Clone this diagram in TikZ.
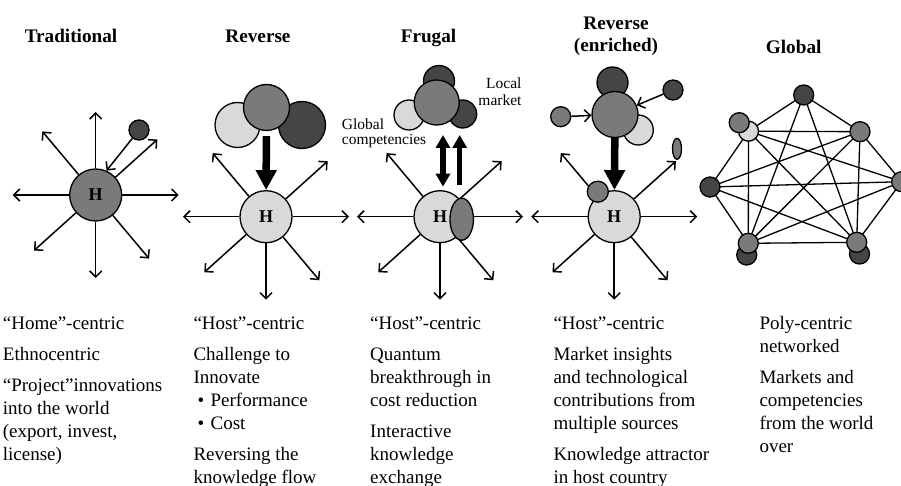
\documentclass[tikz,border=0pt]{standalone}
\usepackage{fontspec}
\setmainfont{Liberation Serif}
\usepackage{xcolor}
\usepackage{tikz}
\usetikzlibrary{positioning, arrows.meta, shapes, shapes.geometric, calc, backgrounds}

\definecolor{ballDark}{gray}{0.27}
\definecolor{ballMid}{gray}{0.48}
\definecolor{ballLight}{gray}{0.85}

\tikzset{fat/.tip={Triangle[length=13pt, width=14pt]}}

\begin{document}
\begin{tikzpicture}[x=1pt, y=-1pt,
    ball/.style={draw, circle, line width=1.3pt, inner sep=0pt, minimum size=#1},
    hub/.style={ball=52pt, font=\fontsize{18}{18}\selectfont\bfseries},
    ray/.style={line width=1.5pt, -{Straight Barb[length=6pt, width=12pt]}},
    bigarrow/.style={line width=7.5pt, -{Triangle[length=20pt, width=20pt]}},
    midarrow/.style={line width=5.5pt},
    link/.style={line width=1.3pt},
    title/.style={font=\fontsize{19.2}{22.5}\selectfont\bfseries, inner sep=0pt},
    caption/.style={font=\fontsize{19}{23}\selectfont, align=left, anchor=north west, inner sep=0pt},
    tag/.style={font=\fontsize{15.5}{15}\selectfont, inner sep=0pt}]

    \useasboundingbox (0,0) rectangle (901,486);

    % titles
    \node[title, anchor=base] (t1) at (71,42.3) {Traditional};
    \node[title, anchor=base] (t2) at (258,42.3) {Reverse};
    \node[title, anchor=base] (t3) at (428.5,42.3) {Frugal};
    \node[title, align=center, anchor=north] (t4) at (616,13.5) {\strut Reverse\\(enriched)};
    \node[title, anchor=base] (t5) at (793.7,53.3) {Global};

    % hubs
    \node[hub, fill=ballMid] (h1) at (95.7,195) {H};
    \node[hub, fill=ballLight] (h2) at (266,216.7) {H};
    \node[hub, fill=ballLight] (h3) at (440,216.7) {H};
    \node[hub, fill=ballLight] (h4) at (614.2,216.7) {H};

    \foreach \a in {0,42,90,130,180,222,270,310} {
        \coordinate (h1e\a) at ($(h1)+(\a:83pt)$);
        \draw[ray] (h1) -- (h1e\a);
    }
    \foreach \h in {h2,h3,h4} {
        \foreach \a in {0,42,130,180,222,270,310} {
            \coordinate (\h e\a) at ($(\h)+(\a:83pt)$);
            \draw[ray] (\h) -- (\h e\a);
        }
    }

    % traditional
    \node[ball=20pt, fill=ballDark] (s1) at (139,130) {};
    \draw[ray] (s1) -- (h1.66);

    % reverse
    \node[ball=45pt, fill=ballLight] (r2a) at (237.5,125) {};
    \node[ball=47pt, fill=ballDark] (r2c) at (302,125) {};
    \node[ball=46pt, fill=ballMid] (r2b) at (266.5,107.5) {};
    \draw[bigarrow, shorten <=5pt] (r2b) -- (h2);

    % frugal
    \node[ball=31pt, fill=ballDark] (f3t) at (439,81) {};
    \node[ball=30pt, fill=ballLight] (f3l) at (409,115) {};
    \node[ball=28pt, fill=ballDark] (f3r) at (462.7,114) {};
    \node[ball=45pt, fill=ballMid] (f3m) at (436.7,102.5) {};
    \node[draw, ellipse, line width=1.3pt, fill=ballMid, inner sep=0pt, minimum width=23.5pt, minimum height=42pt] (f3e) at (461.7,219.2) {};
    \coordinate (f3a) at (443,135);
    \coordinate (f3b) at (443,186.7);
    \coordinate (f3c) at (459.7,185);
    \coordinate (f3d) at (459.7,135);
    \draw[midarrow, fat-fat] (f3a) -- (f3b);
    \draw[midarrow, -fat] (f3c) -- (f3d);
    \node[tag, align=right, anchor=north east] (lm) at (521.7,77.8) {\strut Local\\market};
    \node[tag, align=left, anchor=north west] (gc) at (341.7,118.5) {\strut Global\\competencies};

    % reverse (enriched)
    \node[ball=31pt, fill=ballDark] (e4t) at (612.5,82.5) {};
    \node[ball=30pt, fill=ballLight] (e4c) at (638.3,130) {};
    \node[ball=46pt, fill=ballMid] (e4m) at (615,114.5) {};
    \node[ball=20pt, fill=ballMid] (e4l) at (560.7,116.7) {};
    \node[ball=20pt, fill=ballDark] (e4r) at (673,90) {};
    \draw[ray] (e4l) -- (e4m);
    \draw[ray] (e4r) -- (e4m);
    \draw[bigarrow] (e4m) -- (h4);
    \node[ball=21pt, fill=ballMid] (e4s) at (597.8,191.7) {};
    \node[draw, ellipse, line width=1.3pt, fill=ballMid, inner sep=0pt, minimum width=9pt, minimum height=21pt] (e4o) at (677,148.8) {};

    % global
    \node[ball=20pt, fill=ballDark] (g1) at (803.7,95) {};
    \node[ball=20pt, fill=ballLight] (g2) at (748.5,131.2) {};
    \node[ball=20pt, fill=ballMid] (g2m) at (739.2,122.7) {};
    \node[ball=20pt, fill=ballMid] (g3) at (860,131.7) {};
    \node[ball=20pt, fill=ballMid] (g4) at (901.7,181.7) {};
    \node[ball=20pt, fill=ballDark] (g5) at (710,187) {};
    \node[ball=20pt, fill=ballDark] (g6d) at (746.7,255) {};
    \node[ball=20pt, fill=ballMid] (g6) at (748.3,243.3) {};
    \node[ball=20pt, fill=ballDark] (g7d) at (859.5,254) {};
    \node[ball=20pt, fill=ballMid] (g7) at (856.7,242.3) {};
    \begin{scope}[on background layer]
        \foreach \u/\v in {g1/g2, g1/g3, g1/g6, g1/g7, g2/g3, g2/g4, g2/g5, g2/g6, g2/g7,
                           g3/g4, g3/g5, g3/g6, g3/g7, g4/g5, g4/g6, g4/g7, g5/g6, g5/g7, g6/g7}
            \draw[link] (\u.center) -- (\v.center);
    \end{scope}

    % captions
    \node[caption] (c1) at (2.7,312.9) {\strut “Home”-centric\\[8pt]
        Ethnocentric\\[8pt]
        “Project”innovations\\ into the world\\ (export, invest,\\ license)};
    \node[caption] (c2) at (193.3,312.9) {\strut “Host”-centric\\[8pt]
        Challenge to\\ Innovate\\
        \hspace*{4pt}\textbullet\hspace{6.5pt}Performance\\
        \hspace*{4pt}\textbullet\hspace{6.5pt}Cost\\[8pt]
        Reversing the\\ knowledge flow};
    \node[caption] (c3) at (370,312.9) {\strut “Host”-centric\\[8pt]
        Quantum\\ breakthrough in\\ cost reduction\\[8pt]
        Interactive\\ knowledge\\ exchange};
    \node[caption] (c4) at (553.3,312.9) {\strut “Host”-centric\\[8pt]
        Market insights\\ and technological\\ contributions from\\ multiple sources\\[8pt]
        Knowledge attractor\\ in host country};
    \node[caption] (c5) at (759.3,312.9) {\strut Poly-centric\\ networked\\[8pt]
        Markets and\\ competencies\\ from the world\\ over};
\end{tikzpicture}
\end{document}
